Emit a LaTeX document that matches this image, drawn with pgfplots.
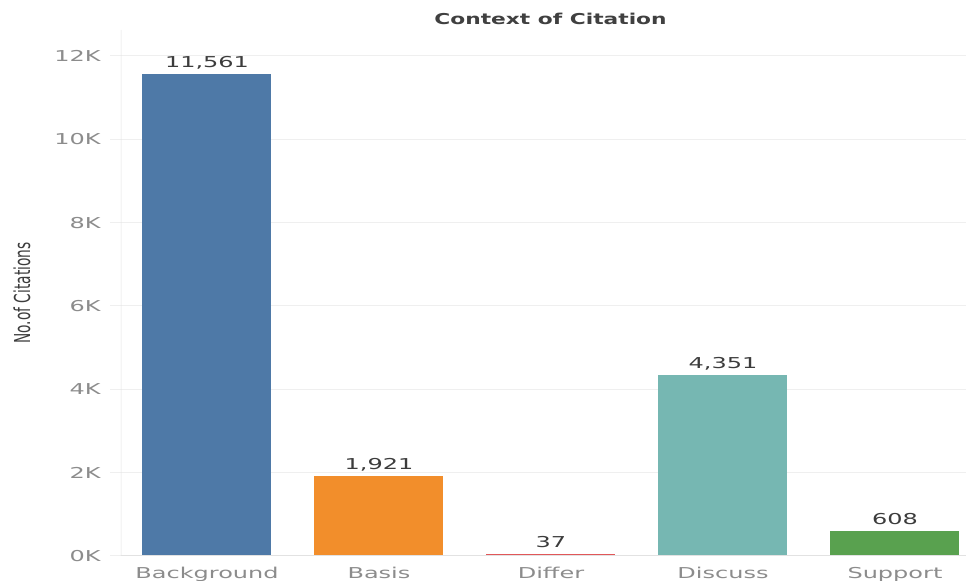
\documentclass[border=0pt]{standalone}
\usepackage{pgfplots}
\pgfplotsset{compat=1.18}
\usepackage{fontspec}
\setmainfont{DejaVu Sans}
\definecolor{cBack}{HTML}{4E79A7}
\definecolor{cBasis}{HTML}{F28E2B}
\definecolor{cDiffer}{HTML}{E15759}
\definecolor{cDisc}{HTML}{76B7B2}
\definecolor{cSupp}{HTML}{59A14F}
\definecolor{gridc}{HTML}{EFEFEF}
\definecolor{axc}{HTML}{E2E2E2}
\definecolor{tickc}{HTML}{8C8C8C}
\definecolor{valc}{HTML}{3C3C3C}
\definecolor{titc}{HTML}{404040}
\newcommand\sx[1]{\scalebox{1.6}[1]{#1}}
\begin{document}
\begin{tikzpicture}
\useasboundingbox (-90.75pt,-18.75pt) rectangle (633.75pt,417pt);
\clip (-90.75pt,-18.75pt) rectangle (633.75pt,417pt);
\begin{axis}[
  at={(0pt,0pt)}, anchor=south west, scale only axis,
  width=633.75pt, height=394.5pt,
  xmin=-0.5, xmax=4.413, ymin=0, ymax=12624,
  axis line style={draw=none},
  scaled y ticks=false,
  ymajorgrids, grid style={gridc, line width=0.75pt},
  ytick={0,2000,...,12000},
  yticklabels={\sx{0K},\sx{2K},\sx{4K},\sx{6K},\sx{8K},\sx{10K},\sx{12K}},
  xtick={0,1,2,3,4},
  xticklabels={\sx{Background},\sx{Basis},\sx{Differ},\sx{Discuss},\sx{Support}},
  tick align=outside, major tick length=8.25pt,
  ytick style={draw=gridc, line width=0.75pt},
  xtick style={draw=none},
  yticklabel style={font=\fontsize{11.25}{13}\selectfont, text=tickc, inner sep=0pt, anchor=east, xshift=-6.75pt},
  xticklabel style={font=\fontsize{11.25}{13}\selectfont, text=tickc, inner sep=0pt, anchor=north, yshift=0pt},
  title={\scalebox{1.45}[1]{Context of Citation}},
  title style={at={(axis description cs:0.5083,1)}, anchor=base, yshift=-2.25pt, font=\bfseries\fontsize{11.25}{13}\selectfont, text=titc},
  ylabel={\scalebox{1}[1.6]{No.of Citations}},
  ylabel style={at={(axis description cs:0,0.5)}, anchor=center, yshift=74.25pt, font=\fontsize{10.3}{12}\selectfont, text=valc},
  /pgf/number format/.cd, fixed, precision=0, 1000 sep={,}, assume math mode=true, /pgfplots/.cd,
  nodes near coords={\sx{\pgfmathprintnumber{\pgfplotspointmeta}}},
  every node near coord/.append style={font=\fontsize{11.25}{13}\selectfont, text=valc, anchor=base, inner sep=0pt, yshift=4.9pt},
]
\addplot[ybar, bar width=0.75, fill=cBack, draw=none] coordinates {(0,11561)};
\addplot[ybar, bar width=0.75, fill=cBasis, draw=none] coordinates {(1,1921)};
\addplot[ybar, bar width=0.75, fill=cDiffer, draw=none] coordinates {(2,37)};
\addplot[ybar, bar width=0.75, fill=cDisc, draw=none] coordinates {(3,4351)};
\addplot[ybar, bar width=0.75, fill=cSupp, draw=none] coordinates {(4,608)};
\draw[axc, line width=0.75pt] (axis cs:-0.5,12624) -- (axis cs:-0.5,0) -- ++(0,-5.25pt);
\draw[axc, line width=0.75pt] (axis cs:-0.5,0) -- (axis cs:4.413,0);
\pgfplotsinvokeforeach{0.5,1.5,2.5,3.5}{\draw[axc, line width=0.75pt] (axis cs:#1,0) -- ++(0,-5.25pt);}
\end{axis}
\end{tikzpicture}
\end{document}
